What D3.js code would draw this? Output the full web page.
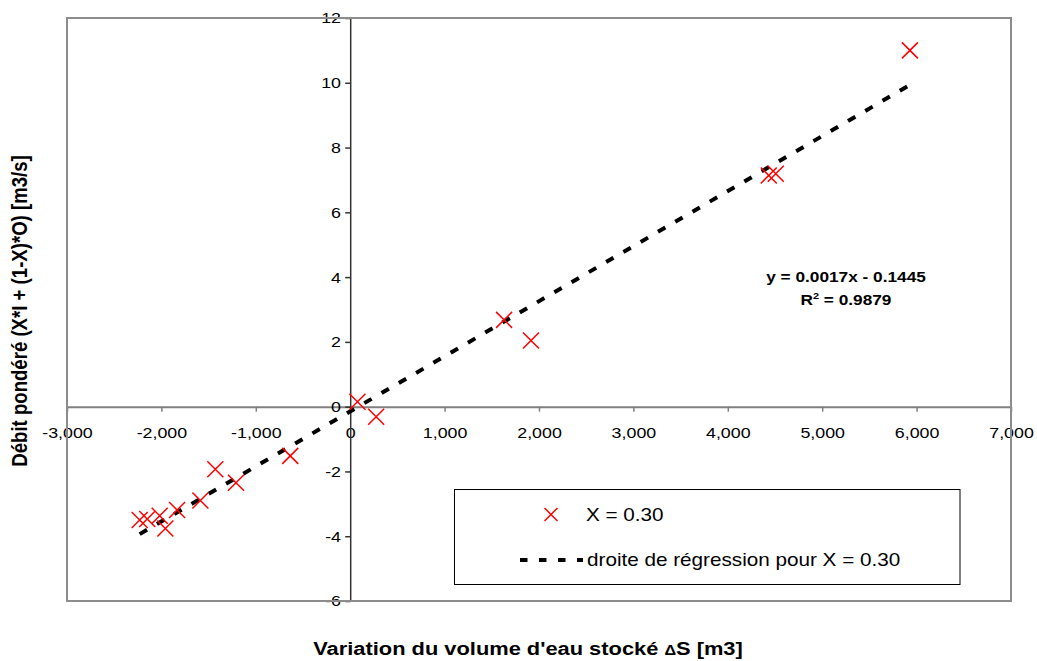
<!DOCTYPE html>
<html><head><meta charset="utf-8">
<script src="https://cdn.jsdelivr.net/npm/d3@7"></script>
<style>body{margin:0;background:#fff} text{font-family:"Liberation Sans",Arial,sans-serif}</style>
</head><body><svg id="chart" width="1037" height="661"></svg>
<script>
// ---- data ----
const deltaS = [-2230, -2150, -2018, -1958, -1834, -1587, -1429, -1210, -635, 77, 275, 1630, 1915, 4434, 4508, 5929];
const debit  = [-3.50, -3.47, -3.37, -3.76, -3.19, -2.90, -1.93, -2.35, -1.52, 0.15, -0.31, 2.68, 2.04, 7.14, 7.19, 11.0];
const xTicks = [-3000, -2000, -1000, 0, 1000, 2000, 3000, 4000, 5000, 6000, 7000];
const yTicks = [-6, -4, -2, 0, 2, 4, 6, 8, 10, 12];
const regSlope = 0.0017;
const regIntercept = -0.1445;
const seriesLabel = "X = 0.30";
const regLabel = "droite de régression pour X = 0.30";
const eqLine1 = "y = 0.0017x - 0.1445";
const r2Value = "0.9879";
const yTitle = "Débit pondéré (X*I + (1-X)*O) [m3/s]";
const xTitleA = "Variation du volume d'eau stocké  ";
const xTitleDelta = "\u0394";
const xTitleB = "S [m3]";

// ---- layout ----
const svg = d3.select("#chart");
const L = 67, R = 1011, T = 18, B = 601;
const SX = 1.15; // horizontal stretch of the original picture's text
const x = d3.scaleLinear().domain([-3000, 7000]).range([L, R]);
const y = d3.scaleLinear().domain([-6, 12]).range([B, T]);
const fmt = d => d3.format(",")(d).replace("\u2212", "-");

svg.append("rect").attr("width", 1037).attr("height", 661).attr("fill", "#fff");

// x axis (at y = 0)
const gx = svg.append("g").attr("transform", `translate(0,${y(0)})`)
  .call(d3.axisBottom(x).tickValues(xTicks).tickSize(5).tickSizeOuter(0).tickPadding(15).tickFormat(fmt));
gx.attr("font-size", 15.5).attr("font-family", "Liberation Sans, Arial, sans-serif");
gx.select(".domain").attr("stroke", "#808080").attr("stroke-width", 2);
gx.selectAll(".tick line").attr("stroke", "#808080").attr("stroke-width", 1.5);
gx.selectAll(".tick text").attr("fill", "#000").attr("transform", `scale(${SX},1)`);

// y axis (at x = 0)
const gy = svg.append("g").attr("transform", `translate(${x(0)},0)`)
  .call(d3.axisLeft(y).tickValues(yTicks).tickSize(5).tickSizeOuter(0).tickPadding(3).tickFormat(fmt));
gy.attr("font-size", 15.5).attr("font-family", "Liberation Sans, Arial, sans-serif");
gy.select(".domain").attr("stroke", "#333").attr("stroke-width", 1.5);
gy.selectAll(".tick line").attr("stroke", "#333").attr("stroke-width", 1.5);
gy.selectAll(".tick text").attr("fill", "#000").attr("transform", `scale(${SX},1)`);

// plot frame
svg.append("rect").attr("x", L).attr("y", T).attr("width", R - L).attr("height", B - T)
  .attr("fill", "none").attr("stroke", "#8c8c8c").attr("stroke-width", 2);

// regression line
const xr = d3.extent(deltaS);
svg.append("path")
  .datum(xr.map(v => [v, regSlope * v + regIntercept]))
  .attr("d", d3.line().x(d => x(d[0])).y(d => y(d[1])))
  .attr("stroke", "#000").attr("stroke-width", 4).attr("fill", "none")
  .attr("stroke-dasharray", "8.5,11.5");

// points (crosses)
const cross = s => `M${-s},${-s}L${s},${s}M${-s},${s}L${s},${-s}`;
svg.append("g").selectAll("path").data(deltaS.map((v, i) => [v, debit[i]])).join("path")
  .attr("transform", d => `translate(${x(d[0])},${y(d[1])})`)
  .attr("d", cross(8)).attr("stroke", "#ff0000").attr("stroke-width", 1.5).attr("fill", "none");

// equation
const eq = svg.append("g").attr("transform", `translate(846,0) scale(${SX},1)`)
  .attr("font-weight", "bold").attr("font-size", 15).attr("text-anchor", "middle");
eq.append("text").attr("x", 0).attr("y", 282).text(eqLine1);
const r2 = eq.append("text").attr("x", 0).attr("y", 305);
r2.append("tspan").text("R");
r2.append("tspan").attr("font-size", 9.5).attr("dy", -6).text("2");
r2.append("tspan").attr("dy", 6).text(" = " + r2Value);

// legend
const lg = svg.append("g");
lg.append("rect").attr("x", 454.5).attr("y", 489.5).attr("width", 505.5).attr("height", 95)
  .attr("fill", "#fff").attr("stroke", "#000").attr("stroke-width", 1);
lg.append("path").attr("transform", "translate(551,514.5)").attr("d", cross(6.5))
  .attr("stroke", "#ff0000").attr("stroke-width", 1.5).attr("fill", "none");
lg.append("text").attr("transform", `translate(586,520.5) scale(${SX},1)`).attr("font-size", 18).text(seriesLabel);
lg.append("line").attr("x1", 520).attr("x2", 583).attr("y1", 560).attr("y2", 560)
  .attr("stroke", "#000").attr("stroke-width", 4).attr("stroke-dasharray", "7.5,11.5");
lg.append("text").attr("transform", `translate(587,566) scale(${SX},1)`).attr("font-size", 18).text(regLabel);

// axis titles
svg.append("text").attr("transform", `translate(27,311) scale(${SX},1) rotate(-90)`)
  .attr("text-anchor", "middle").attr("font-weight", "bold").attr("font-size", 18.6).text(yTitle);
const xt = svg.append("text").attr("transform", `translate(528,655) scale(${SX},1)`)
  .attr("text-anchor", "middle").attr("font-weight", "bold").attr("font-size", 19);
xt.append("tspan").text(xTitleA);
xt.append("tspan").attr("font-size", 14).text(xTitleDelta);
xt.append("tspan").text(xTitleB);
</script></body></html>
